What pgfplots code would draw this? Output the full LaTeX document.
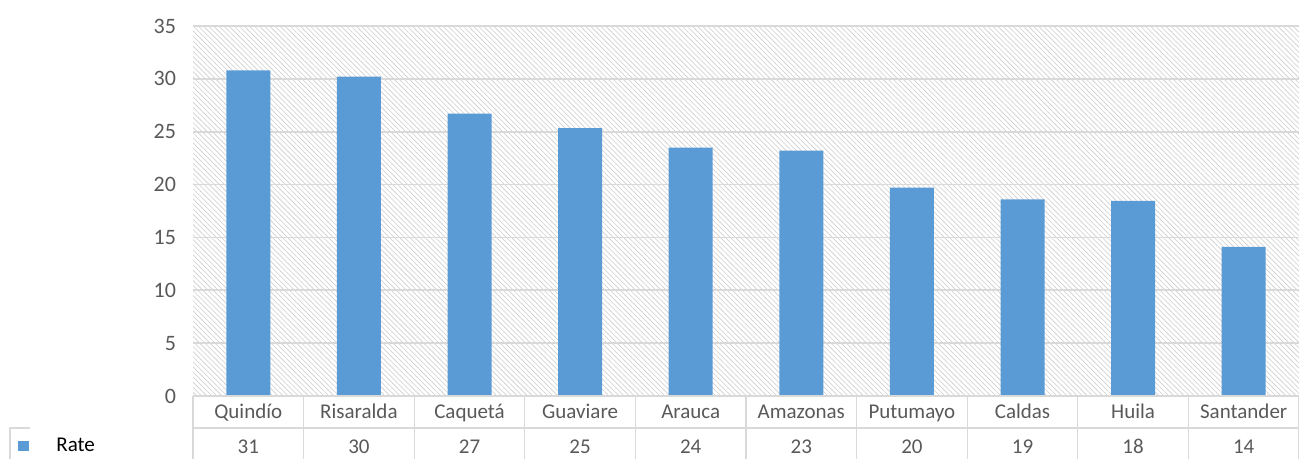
\documentclass[border=0pt]{standalone}
\usepackage{pgfplots}
\pgfplotsset{compat=1.18}
\usepackage{fontspec}
\setmainfont{Carlito}
\usetikzlibrary{patterns.meta}
\definecolor{barblue}{HTML}{5B9BD5}
\definecolor{gridgray}{HTML}{D9D9D9}
\definecolor{txt}{HTML}{595959}
\begin{document}
\begin{tikzpicture}
\begin{axis}[name=ax, scale only axis, width=553pt, height=185pt,
  xmin=-0.5, xmax=9.5, ymin=0, ymax=35,
  ytick={0,5,...,35}, xtick={0,...,9},
  xticklabels={Quindío,Risaralda,Caquetá,Guaviare,Arauca,Amazonas,Putumayo,Caldas,Huila,Santander},
  major tick length=0pt,
  axis line style={draw=none},
  ymajorgrids, grid style={gridgray, line width=0.9pt},
  axis background/.style={pattern={Lines[angle=-45,distance=1.8pt,line width=0.3pt]}, pattern color=gray!40},
  /pgf/number format/assume math mode=true,
  yticklabel style={font=\fontsize{11}{13}\selectfont, text=txt, xshift=-5pt},
  xticklabel style={font=\fontsize{10.5}{12}\selectfont, text=txt, anchor=base, yshift=-11.5pt},
  clip=false,
  legend style={at={(axis description cs:0,0)}, anchor=west, xshift=-90.5pt, yshift=-25pt, draw=none, fill=none, font=\fontsize{10.5}{12}\selectfont},
  legend image code/.code={\fill[barblue] (0pt,-2.6pt) rectangle (5.5pt,2.6pt); \path (17pt,0);},
]
\addplot[ybar, bar width=22pt, fill=barblue, draw=none] coordinates {
(0,30.8) (1,30.2) (2,26.7) (3,25.35) (4,23.5) (5,23.2) (6,19.7) (7,18.6) (8,18.45) (9,14.1)};
\addlegendentry{Rate}
% data table lines
\draw[gridgray, line width=0.6pt] (axis cs:-0.5,0) -- (axis cs:9.5,0);
\draw[gridgray, line width=0.6pt] ([yshift=-16pt]axis cs:-0.5,0) -- ([yshift=-16pt]axis cs:9.5,0);
\pgfplotsinvokeforeach{-0.5,0.5,1.5,2.5,3.5,4.5,5.5,6.5,7.5,8.5,9.5}{
  \draw[gridgray, line width=0.6pt] (axis cs:#1,0) -- ([yshift=-31.5pt]axis cs:#1,0);
}
\draw[gridgray, line width=0.6pt] ([xshift=-91.5pt,yshift=-31.5pt]axis cs:-0.5,0) -- ([xshift=-91.5pt,yshift=-16pt]axis cs:-0.5,0) -- ([xshift=-81.5pt,yshift=-16pt]axis cs:-0.5,0);
\node[anchor=base, text=txt, font=\fontsize{10.5}{12}\selectfont] at ([yshift=-29pt]axis cs:0,0) {31};
\node[anchor=base, text=txt, font=\fontsize{10.5}{12}\selectfont] at ([yshift=-29pt]axis cs:1,0) {30};
\node[anchor=base, text=txt, font=\fontsize{10.5}{12}\selectfont] at ([yshift=-29pt]axis cs:2,0) {27};
\node[anchor=base, text=txt, font=\fontsize{10.5}{12}\selectfont] at ([yshift=-29pt]axis cs:3,0) {25};
\node[anchor=base, text=txt, font=\fontsize{10.5}{12}\selectfont] at ([yshift=-29pt]axis cs:4,0) {24};
\node[anchor=base, text=txt, font=\fontsize{10.5}{12}\selectfont] at ([yshift=-29pt]axis cs:5,0) {23};
\node[anchor=base, text=txt, font=\fontsize{10.5}{12}\selectfont] at ([yshift=-29pt]axis cs:6,0) {20};
\node[anchor=base, text=txt, font=\fontsize{10.5}{12}\selectfont] at ([yshift=-29pt]axis cs:7,0) {19};
\node[anchor=base, text=txt, font=\fontsize{10.5}{12}\selectfont] at ([yshift=-29pt]axis cs:8,0) {18};
\node[anchor=base, text=txt, font=\fontsize{10.5}{12}\selectfont] at ([yshift=-29pt]axis cs:9,0) {14};
\end{axis}
\pgfresetboundingbox
\path ([xshift=-96.5pt,yshift=-31.5pt]ax.south west) rectangle ([yshift=13pt]ax.north east);
\end{tikzpicture}
\end{document}
